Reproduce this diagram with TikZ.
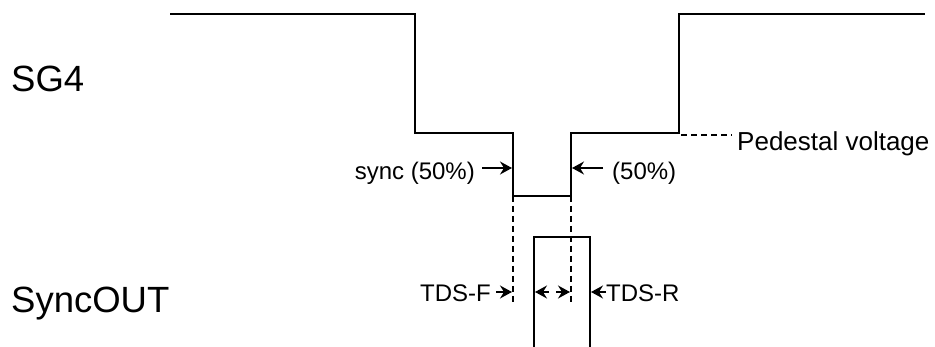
\documentclass[tikz,border=0pt]{standalone}
\usepackage{fontspec}
\setmainfont{Liberation Sans}
\usetikzlibrary{arrows.meta}
\begin{document}
\begin{tikzpicture}[x=1pt,y=-1pt,
  wave/.style={line width=2pt,line join=miter},
  guide/.style={line width=1.1pt,dash pattern=on 6pt off 4pt},
  arr/.style={line width=1.3pt,-{Stealth[length=12pt,width=13pt,inset=4pt]}},
  big/.style={font=\fontsize{36.5}{40}\selectfont,inner sep=0pt,anchor=base west},
  small/.style={font=\fontsize{24}{26}\selectfont,inner sep=0pt}]
\useasboundingbox (0,0) rectangle (935,347);
% SG4 waveform
\coordinate (a0) at (170,14);
\coordinate (a1) at (415,14);
\coordinate (a2) at (415,133);
\coordinate (a3) at (513,133);
\coordinate (a4) at (513,196);
\coordinate (a5) at (571,196);
\coordinate (a6) at (571,133);
\coordinate (a7) at (679,133);
\coordinate (a8) at (679,14);
\coordinate (a9) at (925,14);
\draw[wave] (a0) -- (a1) -- (a2) -- (a3) -- (a4) -- (a5) -- (a6) -- (a7) -- (a8) -- (a9);
% SyncOUT pulse
\coordinate (b0) at (534,348);
\coordinate (b1) at (534,237);
\coordinate (b2) at (590,237);
\coordinate (b3) at (590,348);
\draw[wave] (b0) -- (b1) -- (b2) -- (b3);
% labels
\node[big] (sg4) at (11,92) {SG4};
\node[big] (syncout) at (11,313) {SyncOUT};
\node[small,font=\fontsize{26}{28}\selectfont,anchor=base west] (ped) at (737,151) {Pedestal voltage};
\node[small,anchor=base east] (sync) at (475,180) {sync (50\%)};
\node[small,anchor=base west] (fifty) at (612,180) {(50\%)};
\node[small,anchor=base east] (tdsf) at (491,302) {TDS-F};
\node[small,anchor=base west] (tdsr) at (606,302) {TDS-R};
% guides
\coordinate (g1) at (513,302);
\coordinate (g2) at (571,302);
\coordinate (pedend) at (732,135);
\draw[guide] (a4) -- (g1);
\draw[guide] (a5) -- (g2);
\draw[guide] (681,135) -- (pedend);
% sync arrows
\draw[arr] (482,168) -- (512,168);
\draw[arr] (603,168) -- (572,168);
% TDS arrows
\draw[arr] (496,292) -- (512,292);
\draw[arr] (549,292) -- (535,292);
\draw[arr] (556,292) -- (570,292);
\draw[arr] (606,292) -- (591,292);
\end{tikzpicture}
\end{document}
